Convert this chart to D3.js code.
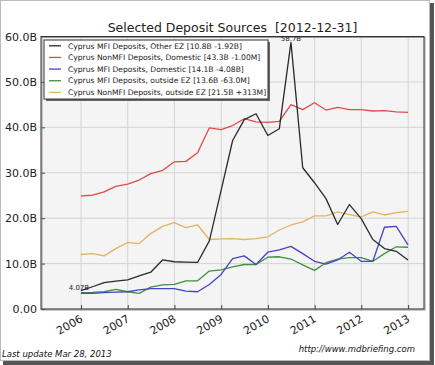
<!DOCTYPE html>
<html><head><meta charset="utf-8">
<script src="https://cdn.jsdelivr.net/npm/d3@7"></script>
<style>
body{margin:0;background:#fff;}
svg{display:block;font-family:"DejaVu Sans",sans-serif;}
text{white-space:pre;}
</style></head><body>
<svg id="c" width="435" height="365"></svg>
<script>
const dates = ["2005-12-31","2006-03-31","2006-06-30","2006-09-30","2006-12-31","2007-03-31","2007-06-30","2007-09-30","2007-12-31",
"2008-03-31","2008-06-30","2008-09-30","2008-12-31","2009-03-31","2009-06-30","2009-09-30","2009-12-31",
"2010-03-31","2010-06-30","2010-09-30","2010-12-31","2011-03-31","2011-06-30","2011-09-30","2011-12-31",
"2012-03-31","2012-06-30","2012-09-30","2012-12-31"];
const mfiOtherEZ = [4.07,4.9,5.8,6.15,6.4,7.3,8.1,10.8,10.4,10.3,10.25,15.0,26.1,37.1,41.7,43.0,38.2,39.7,58.7,31.1,27.8,24.3,18.6,23.0,19.9,15.3,13.3,12.7,10.8];
const nonMfiDomestic = [24.9,25.05,25.8,27.0,27.5,28.4,29.8,30.5,32.4,32.5,34.4,39.9,39.5,40.4,41.9,41.2,41.1,41.3,45.0,43.9,45.4,43.8,44.4,43.9,43.9,43.6,43.7,43.4,43.3];
const mfiDomestic = [3.45,3.45,3.6,3.7,3.8,4.2,4.5,4.5,4.5,3.95,3.8,5.4,7.6,11.1,11.7,9.8,12.5,13.0,13.8,12.2,10.5,9.9,10.8,12.5,10.5,10.5,18.0,18.2,14.1];
const mfiOutsideEZ = [3.6,3.65,3.8,4.3,3.8,3.45,4.8,5.3,5.4,6.2,6.2,8.35,8.6,9.3,9.8,9.8,11.4,11.5,11.0,9.7,8.5,10.2,11.0,11.3,11.3,10.5,12.2,13.7,13.6];
const nonMfiOutsideEZ = [12.0,12.2,11.7,13.3,14.65,14.4,16.6,18.2,19.0,17.9,18.5,15.3,15.45,15.5,15.3,15.5,15.9,17.4,18.5,19.2,20.5,20.5,21.4,20.8,20.3,21.4,20.7,21.2,21.5];
const seriesNames = ["Cyprus MFI Deposits, Other EZ [10.8B -1.92B]","Cyprus NonMFI Deposits, Domestic [43.3B -1.00M]","Cyprus MFI Deposits, Domestic [14.1B -4.08B]","Cyprus MFI Deposits, outside EZ [13.6B -63.0M]","Cyprus NonMFI Deposits, outside EZ [21.5B +313M]"];
const seriesColors = ["#2a2a2a","#e04a4a","#4444c8","#409040","#e2b45e"];
const yTicks = [0,10,20,30,40,50,60];
const yTickLabels = ["0.00","10.0B","20.0B","30.0B","40.0B","50.0B","60.0B"];
const xTickYears = [2006,2007,2008,2009,2010,2011,2012,2013];
const peakLabel = "58.7B", startLabel = "4.07B";
const title = "Selected Deposit Sources  [2012-12-31]";

const svg = d3.select("#c");
const L=41,R=424,T=36.5,B=309;
const parse = d3.timeParse("%Y-%m-%d");
const dd = dates.map(parse);
const x = d3.scaleTime().domain([new Date(2005,1,22), new Date(2013,4,5)]).range([L,R]);
const y = d3.scaleLinear().domain([0,60]).range([B,T]);

// outer frame + shadow
svg.append("rect").attr("x",430).attr("y",3).attr("width",4).attr("height",360).attr("fill","#555");
svg.append("rect").attr("x",3).attr("y",361).attr("width",431).attr("height",4).attr("fill","#555");
svg.append("rect").attr("x",0.5).attr("y",0.5).attr("width",429).attr("height",360).attr("fill","#fff").attr("stroke","#bbb");

svg.append("rect").attr("x",L).attr("y",T).attr("width",R-L).attr("height",B-T).attr("fill","#f4f4f4");

// grid
const g = svg.append("g");
g.selectAll(".gy").data(yTicks).enter().append("line")
 .attr("x1",L).attr("x2",R).attr("y1",d=>y(d)).attr("y2",d=>y(d)).attr("stroke","#d4d4d4");
const xt = xTickYears.map(v=>new Date(v,0,1));
g.selectAll(".gx").data(xt).enter().append("line")
 .attr("x1",d=>x(d)).attr("x2",d=>x(d)).attr("y1",T).attr("y2",B).attr("stroke","#d4d4d4");

// axes
const ya = d3.axisLeft(y).tickValues(yTicks).tickFormat((d,i)=>yTickLabels[i]).tickSize(-4).tickPadding(4);
const yg = svg.append("g").attr("transform",`translate(${L},0)`).call(ya);
yg.select(".domain").remove();
yg.selectAll("text").attr("font-size","11px").attr("fill","#222").attr("font-family","DejaVu Sans");
yg.selectAll("line").attr("stroke","#444");
const xa = d3.axisBottom(x).tickValues(xt).tickFormat(d3.timeFormat("%Y")).tickSize(-4).tickPadding(0);
const xg = svg.append("g").attr("transform",`translate(0,${B})`).call(xa);
xg.select(".domain").remove();
xg.selectAll("line").attr("stroke","#444");
xg.selectAll("text").attr("font-size","11px").attr("fill","#222").attr("font-family","DejaVu Sans")
 .attr("text-anchor","end").attr("dy",null).attr("y",0)
 .attr("transform","translate(2,12) rotate(-30)");

// lines
const all = [mfiOtherEZ,nonMfiDomestic,mfiDomestic,mfiOutsideEZ,nonMfiOutsideEZ];
const line = d3.line().x((d,i)=>x(dd[i])).y(d=>y(d));
const order=[4,3,2,1,0];
order.forEach(k=>{
  svg.append("path").datum(all[k]).attr("d",line).attr("fill","none")
   .attr("stroke",seriesColors[k]).attr("stroke-width",1.3).attr("stroke-linejoin","round");
});

// frame
svg.append("rect").attr("x",L+1).attr("y",T+1).attr("width",R-L).attr("height",B-T).attr("fill","none").attr("stroke","#999");
svg.append("rect").attr("x",L).attr("y",T).attr("width",R-L).attr("height",B-T).attr("fill","none").attr("stroke","#333");

// annotations
const pi = mfiOtherEZ.indexOf(d3.max(mfiOtherEZ));
svg.append("text").attr("x",x(dd[pi])).attr("y",y(mfiOtherEZ[pi])-1.5).attr("text-anchor","middle")
 .attr("font-size","7px").attr("fill","#222").text(peakLabel);
svg.append("text").attr("x",x(dd[0])-2).attr("y",y(mfiOtherEZ[0])-0.5).attr("text-anchor","middle")
 .attr("font-size","7px").attr("fill","#222").text(startLabel);

// legend
const lg = svg.append("g");
lg.append("rect").attr("x",46).attr("y",42).attr("width",224).attr("height",59).attr("fill","#666");
lg.append("rect").attr("x",44).attr("y",40).attr("width",224).attr("height",59).attr("fill","#fff").attr("stroke","#333");
seriesNames.forEach((n,i)=>{
  const yy = 45.8 + i*11.65;
  lg.append("line").attr("x1",49).attr("x2",61).attr("y1",yy).attr("y2",yy).attr("stroke",seriesColors[i]).attr("stroke-width",1.3);
  lg.append("text").attr("x",68).attr("y",yy+2.7).attr("font-size","7.6px").attr("fill","#222").text(n);
});

// title
svg.append("text").attr("x",(L+R)/2).attr("y",31.5).attr("text-anchor","middle").attr("font-size","12.5px").attr("fill","#222").text(title);

// footer
svg.append("text").attr("x",2).attr("y",356.5).attr("font-size","8.5px").attr("font-style","italic").attr("fill","#111").text("Last update Mar 28, 2013");
svg.append("text").attr("x",415).attr("y",351.5).attr("text-anchor","end").attr("font-size","8.5px").attr("font-style","italic").attr("fill","#111").text("http://www.mdbriefing.com");
</script></body></html>
